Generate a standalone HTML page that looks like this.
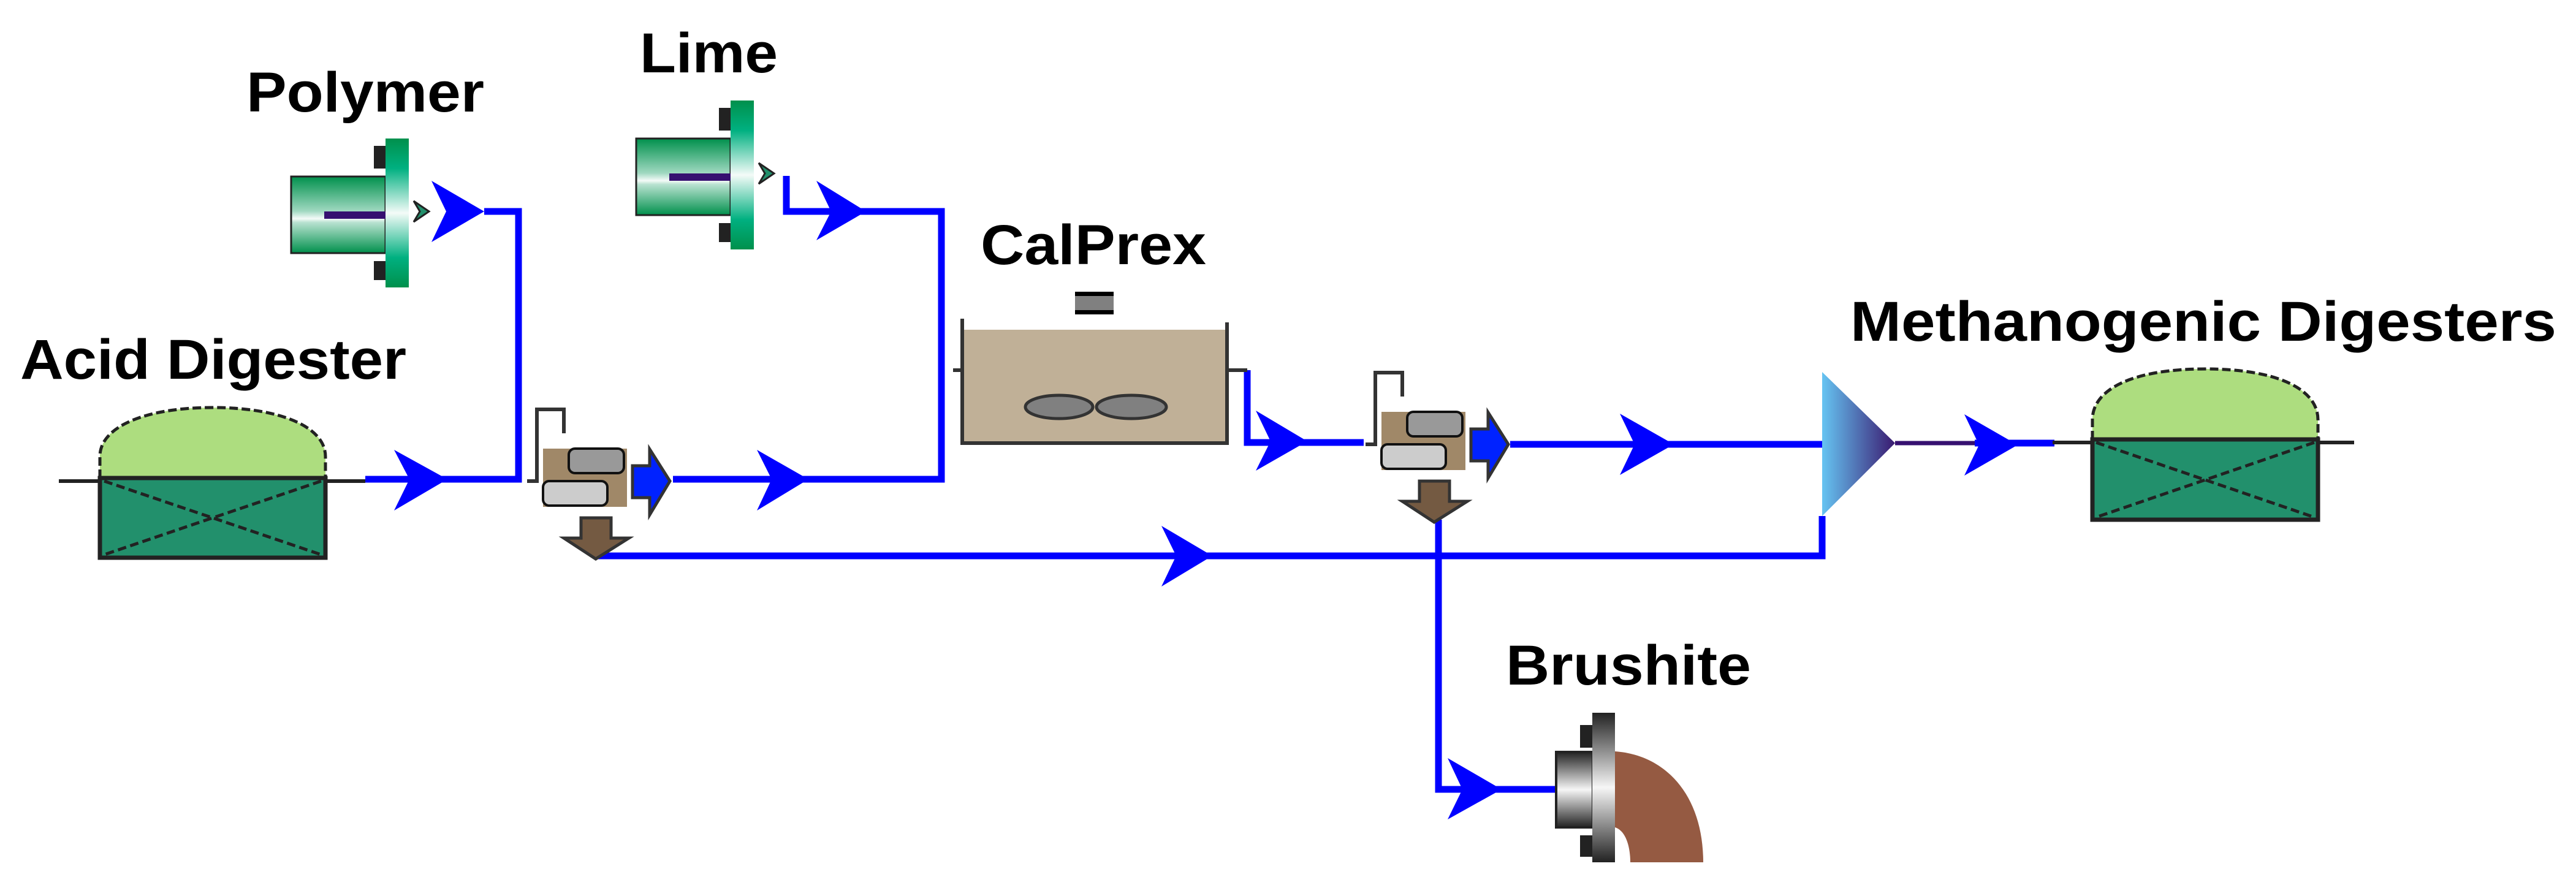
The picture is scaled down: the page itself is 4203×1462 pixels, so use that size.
<!DOCTYPE html>
<html><head><meta charset="utf-8"><style>
html,body{margin:0;padding:0;background:#fff;}
svg{display:block;}
text{font-family:"Liberation Sans",sans-serif;font-weight:bold;fill:#000;}
</style></head><body>
<svg width="4203" height="1462" viewBox="0 0 4203 1462" xmlns="http://www.w3.org/2000/svg">
<defs>
<linearGradient id="gv" x1="0" y1="0" x2="0" y2="1">
<stop offset="0" stop-color="#00904c"/><stop offset="0.45" stop-color="#9fd8c0"/><stop offset="0.55" stop-color="#f4fbf8"/><stop offset="0.6" stop-color="#b8e2d0"/><stop offset="1" stop-color="#00904c"/></linearGradient>
<linearGradient id="gf" x1="0" y1="0" x2="0" y2="1">
<stop offset="0" stop-color="#00904c"/><stop offset="0.2" stop-color="#00b080"/><stop offset="0.5" stop-color="#f4fbf8"/><stop offset="0.8" stop-color="#00b080"/><stop offset="1" stop-color="#00904c"/></linearGradient>
<linearGradient id="gg" x1="0" y1="0" x2="0" y2="1">
<stop offset="0" stop-color="#222"/><stop offset="0.5" stop-color="#f6f6f6"/><stop offset="1" stop-color="#222"/></linearGradient>
<linearGradient id="gt" x1="0" y1="0" x2="1" y2="0">
<stop offset="0" stop-color="#66c4f2"/><stop offset="1" stop-color="#3a1a70"/></linearGradient>
</defs>

<!-- labels -->
<text x="402" y="182" font-size="92" textLength="388" lengthAdjust="spacingAndGlyphs">Polymer</text>
<text x="1044" y="118" font-size="92" textLength="225" lengthAdjust="spacingAndGlyphs">Lime</text>
<text x="33" y="618" font-size="92" textLength="630" lengthAdjust="spacingAndGlyphs">Acid Digester</text>
<text x="1600" y="431" font-size="92" textLength="368" lengthAdjust="spacingAndGlyphs">CalPrex</text>
<text x="3019" y="556" font-size="92" textLength="1152" lengthAdjust="spacingAndGlyphs">Methanogenic Digesters</text>
<text x="2457" y="1117" font-size="92" textLength="400" lengthAdjust="spacingAndGlyphs">Brushite</text>

<!-- blue streams -->
<g stroke="#0000ff" stroke-width="11" fill="none">
<polyline points="596,782 846,782 846,345 790,345"/>
<polyline points="1283,287 1283,345 1536,345 1536,782 1098,782"/>
<polyline points="2035,604 2035,722 2225,722"/>
<polyline points="2464,725 2973,725"/>
<polyline points="971,907 2973,907 2973,842"/>
<polyline points="2347,848 2347,1288 2541,1288"/>
<line x1="3222" y1="723" x2="3352" y2="723"/>
</g>
<line x1="3092" y1="723" x2="3222" y2="723" stroke="#361070" stroke-width="7"/>

<!-- stream arrows -->
<g fill="#0000ff">
<polygon points="643,734 730,782 643,833 668,782"/>
<polygon points="704,295 790,345 704,395 728,345"/>
<polygon points="1332,295 1413,345 1332,392 1356,345"/>
<polygon points="1235,734 1319,782 1235,833 1259,782"/>
<polygon points="1895,858 1978,907 1895,957 1919,907"/>
<polygon points="2049,670 2133,720 2049,768 2073,720"/>
<polygon points="2643,675 2731,725 2643,775 2667,725"/>
<polygon points="3205,676 3292,726 3205,776 3229,726"/>
<polygon points="2362,1237 2450,1288 2362,1337 2386,1288"/>
</g>

<!-- Acid digester -->
<line x1="96" y1="785" x2="596" y2="785" stroke="#222" stroke-width="6"/>
<path d="M163,780 L163,745 C163,695 240,665 347,665 C454,665 531,695 531,745 L531,780 Z" fill="#addd7f" stroke="#222" stroke-width="5" stroke-dasharray="14,6"/>
<rect x="163" y="780" width="368" height="130" fill="#22906c" stroke="#222" stroke-width="7"/>
<path d="M170,785 L524,905 M524,785 L170,905" stroke="#222" stroke-width="5" stroke-dasharray="14,7"/>

<!-- Methanogenic digester -->
<line x1="3349" y1="722" x2="3841" y2="722" stroke="#222" stroke-width="6"/>
<path d="M3414,717 L3414,685 C3414,635 3480,602 3598,602 C3716,602 3782,635 3782,685 L3782,717 Z" fill="#addd7f" stroke="#222" stroke-width="5" stroke-dasharray="14,6"/>
<rect x="3414" y="717" width="368" height="131" fill="#22906c" stroke="#222" stroke-width="7"/>
<path d="M3420,722 L3776,844 M3776,722 L3420,844" stroke="#222" stroke-width="5" stroke-dasharray="14,7"/>

<!-- Polymer pump -->
<rect x="610" y="238" width="19" height="37" fill="#222"/>
<rect x="610" y="426" width="19" height="31" fill="#222"/>
<rect x="475" y="288" width="154" height="125" fill="url(#gv)" stroke="#222" stroke-width="3"/>
<rect x="629" y="226" width="38" height="243" fill="url(#gf)"/>
<rect x="529" y="345" width="100" height="12" fill="#361070"/>
<polygon points="675,328 700,345 675,362 685,345" fill="#22906c" stroke="#222" stroke-width="3"/>
<!-- Lime pump -->
<g transform="translate(563,-62)">
<rect x="610" y="238" width="19" height="37" fill="#222"/>
<rect x="610" y="426" width="19" height="31" fill="#222"/>
<rect x="475" y="288" width="154" height="125" fill="url(#gv)" stroke="#222" stroke-width="3"/>
<rect x="629" y="226" width="38" height="243" fill="url(#gf)"/>
<rect x="529" y="345" width="100" height="12" fill="#361070"/>
<polygon points="675,328 700,345 675,362 685,345" fill="#22906c" stroke="#222" stroke-width="3"/>
</g>

<!-- Separator 1 -->
<g>
<polyline points="860,785 876,785 876,668 920,668 920,707" fill="none" stroke="#333" stroke-width="6"/>
<rect x="886" y="732" width="137" height="95" fill="#a08868"/>
<rect x="928" y="732" width="90" height="40" rx="10" fill="#999" stroke="#111" stroke-width="4"/>
<rect x="886" y="785" width="105" height="40" rx="10" fill="#ccc" stroke="#111" stroke-width="4"/>
<polygon points="1032,760 1060,760 1060,733 1093,785 1060,840 1060,812 1032,812" fill="#0022ff" stroke="#333" stroke-width="5"/>
<polygon points="948,845 997,845 997,878 1026,878 972,912 920,878 948,878" fill="#745a42" stroke="#333" stroke-width="5"/>
</g>
<!-- Separator 2 -->
<g transform="translate(1368,-60)">
<polyline points="860,785 876,785 876,668 920,668 920,707" fill="none" stroke="#333" stroke-width="6"/>
<rect x="886" y="732" width="137" height="95" fill="#a08868"/>
<rect x="928" y="732" width="90" height="40" rx="10" fill="#999" stroke="#111" stroke-width="4"/>
<rect x="886" y="785" width="105" height="40" rx="10" fill="#ccc" stroke="#111" stroke-width="4"/>
<polygon points="1032,760 1060,760 1060,733 1093,785 1060,840 1060,812 1032,812" fill="#0022ff" stroke="#333" stroke-width="5"/>
<polygon points="948,845 997,845 997,878 1026,878 972,912 920,878 948,878" fill="#745a42" stroke="#333" stroke-width="5"/>
</g>

<!-- CalPrex tank -->
<rect x="1754" y="476" width="63" height="37" fill="#808080"/>
<rect x="1754" y="476" width="63" height="7" fill="#000"/>
<rect x="1754" y="506" width="63" height="7" fill="#000"/>
<rect x="1573" y="538" width="426" height="182" fill="#c0b097"/>
<polyline points="1570,520 1570,723 2002,723 2002,526" fill="none" stroke="#333" stroke-width="6"/>
<line x1="1555" y1="604" x2="1567" y2="604" stroke="#333" stroke-width="6"/>
<line x1="2005" y1="604" x2="2035" y2="604" stroke="#333" stroke-width="6"/>
<ellipse cx="1728" cy="664" rx="55" ry="19" fill="#808080" stroke="#333" stroke-width="5"/>
<ellipse cx="1846" cy="664" rx="57" ry="19" fill="#808080" stroke="#333" stroke-width="5"/>

<!-- mixer triangle -->
<polygon points="2973,607 3092,723 2973,842" fill="url(#gt)"/>

<!-- Brushite -->
<path d="M2635,1226 C2720,1232 2779,1300 2779,1407 L2660,1407 C2660,1380 2652,1355 2635,1350 Z" fill="#955a42"/>
<rect x="2578" y="1183" width="22" height="37" fill="#222"/>
<rect x="2578" y="1363" width="22" height="35" fill="#222"/>
<rect x="2539" y="1227" width="60" height="123" fill="url(#gg)" stroke="#222" stroke-width="4"/>
<rect x="2598" y="1163" width="37" height="244" fill="url(#gg)"/>
</svg>
</body></html>
